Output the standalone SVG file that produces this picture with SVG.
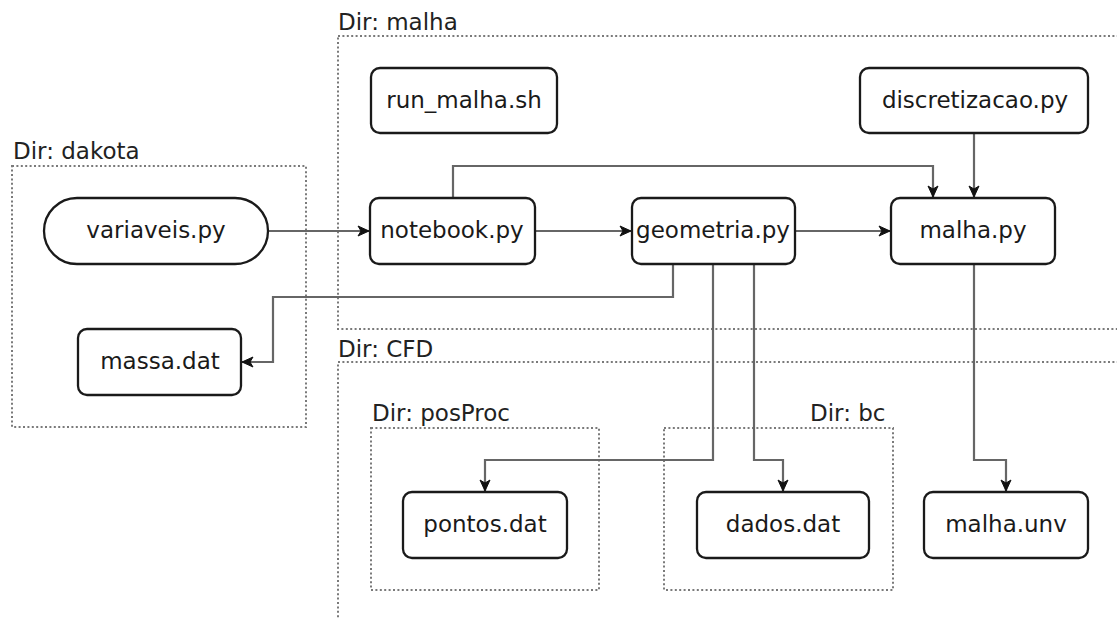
<svg xmlns="http://www.w3.org/2000/svg" width="1117" height="619" viewBox="0 0 1117 619">
<style>
.dir{fill:none;stroke:#7a7a7a;stroke-width:2;stroke-dasharray:2 2.4}
.lbl{font-family:"DejaVu Sans",sans-serif;font-size:23px;fill:#222}
.node{fill:#fff;stroke:#1a1a1a;stroke-width:2.3}
.txt{font-family:"DejaVu Sans",sans-serif;font-size:23px;fill:#1a1a1a;text-anchor:middle}
.edge{fill:none;stroke:#666;stroke-width:2.2}
</style>
<defs>
<marker id="arr" markerUnits="userSpaceOnUse" markerWidth="14" markerHeight="14" viewBox="0 0 14 14" refX="12" refY="7" orient="auto">
<path d="M1,2 L12,7 L1,12 L4,7 Z" fill="#111" stroke="#111" stroke-width="1"/>
</marker>
</defs>
<rect width="1117" height="619" fill="#fff"/>
<g id="dir-malha"><rect class="dir" x="338" y="36" width="800" height="293"/><text class="lbl" x="338" y="30">Dir: malha</text></g>
<g id="dir-dakota"><rect class="dir" x="12" y="166" width="294" height="261"/><text class="lbl" x="13" y="159">Dir: dakota</text></g>
<g id="dir-cfd"><rect class="dir" x="338" y="362" width="800" height="300"/><text class="lbl" x="338" y="357">Dir: CFD</text></g>
<g id="dir-posproc"><rect class="dir" x="371" y="428" width="228" height="162"/><text class="lbl" x="372" y="421">Dir: posProc</text></g>
<g id="dir-bc"><rect class="dir" x="664" y="428" width="229" height="162"/><text class="lbl" x="810" y="421">Dir: bc</text></g>
<g id="connectors">
<path class="edge" d="M268,231 L369,231" marker-end="url(#arr)"/>
<path class="edge" d="M535,231 L631,231" marker-end="url(#arr)"/>
<path class="edge" d="M795,231 L890,231" marker-end="url(#arr)"/>
<path class="edge" d="M453,198 L453,166 L933,166 L933,197" marker-end="url(#arr)"/>
<path class="edge" d="M974,133 L974,197" marker-end="url(#arr)"/>
<path class="edge" d="M673,265 L673,297 L273,297 L273,362 L242,362" marker-end="url(#arr)"/>
<path class="edge" d="M713,265 L713,460 L485,460 L485,491" marker-end="url(#arr)"/>
<path class="edge" d="M754,265 L754,460 L783,460 L783,491" marker-end="url(#arr)"/>
<path class="edge" d="M974,265 L974,460 L1006,460 L1006,491" marker-end="url(#arr)"/>
</g>
<g id="run_malha"><rect class="node" x="371" y="68" width="186" height="65" rx="9"/><text class="txt" x="464" y="108">run_malha.sh</text></g>
<g id="discretizacao"><rect class="node" x="860" y="68" width="228" height="65" rx="9"/><text class="txt" x="975" y="108">discretizacao.py</text></g>
<g id="variaveis"><rect class="node" x="44" y="198" width="224" height="66" rx="33"/><text class="txt" x="156" y="238">variaveis.py</text></g>
<g id="notebook"><rect class="node" x="370" y="198" width="165" height="66" rx="9"/><text class="txt" x="452" y="238">notebook.py</text></g>
<g id="geometria"><rect class="node" x="632" y="198" width="163" height="66" rx="9"/><text class="txt" x="713" y="238">geometria.py</text></g>
<g id="malha_py"><rect class="node" x="891" y="198" width="164" height="66" rx="9"/><text class="txt" x="973" y="238">malha.py</text></g>
<g id="massa"><rect class="node" x="78" y="329" width="163" height="66" rx="9"/><text class="txt" x="160" y="369">massa.dat</text></g>
<g id="pontos"><rect class="node" x="403" y="492" width="164" height="66" rx="9"/><text class="txt" x="485" y="532">pontos.dat</text></g>
<g id="dados"><rect class="node" x="697" y="492" width="172" height="66" rx="9"/><text class="txt" x="783" y="532">dados.dat</text></g>
<g id="malha_unv"><rect class="node" x="924" y="492" width="164" height="66" rx="9"/><text class="txt" x="1006" y="532">malha.unv</text></g>
</svg>
